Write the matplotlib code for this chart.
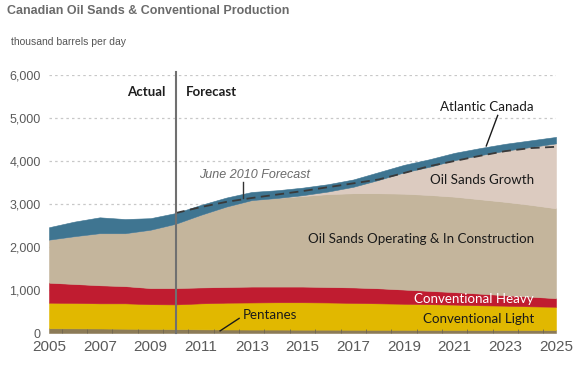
import matplotlib
matplotlib.use("Agg")
import matplotlib.pyplot as plt
import numpy as np

# years on the x axis
years = list(range(2005, 2026))

# layer values, thousand barrels per day
pentanes = [110, 108, 105, 100, 95, 90, 85, 82, 80, 80, 78, 78, 76, 75, 75, 74, 73, 72, 72, 71, 70]
conv_light = [595, 592, 585, 590, 575, 575, 605, 623, 630, 635, 637, 632, 624, 615, 605, 596, 587, 573, 563, 549, 540]
conv_heavy = [465, 440, 420, 400, 375, 380, 370, 365, 370, 365, 365, 360, 360, 350, 330, 310, 290, 270, 245, 225, 200]
os_operating = [1000, 1110, 1210, 1230, 1355, 1495, 1690, 1870, 2010, 2060, 2105, 2160, 2190, 2210, 2230, 2230, 2220, 2195, 2170, 2135, 2090]
os_growth = [0, 0, 0, 0, 0, 0, 0, 0, 0, 0, 20, 60, 150, 310, 495, 655, 850, 1025, 1190, 1345, 1510]
atlantic = [290, 340, 370, 330, 270, 250, 230, 210, 190, 180, 175, 170, 170, 180, 175, 175, 170, 165, 160, 155, 150]

# June 2010 forecast (total)
june_years = list(range(2010, 2026))
june_2010 = [2790, 2930, 3050, 3140, 3220, 3300, 3390, 3480, 3570, 3720, 3880, 4000, 4120, 4230, 4300, 4330]

colors = ["#8c7b57", "#e1b800", "#c01c30", "#c4b59c", "#dccbc0", "#3f7591"]

fig = plt.figure(figsize=(5.8, 3.67), dpi=100)
ax = fig.add_axes([49/580, 34/367, 507/580, 258/367])

polys = ax.stackplot(years, pentanes, conv_light, conv_heavy, os_operating,
                     os_growth, atlantic, colors=colors)
for p, c in zip(polys, colors):
    p.set_edgecolor(c)
    p.set_linewidth(0.4)

ax.plot(june_years, june_2010, color="#3a3a3a", lw=1.3, dashes=(5, 3))

ax.set_xlim(2005, 2025)
ax.set_ylim(0, 6000)
ax.set_yticks(range(0, 6001, 1000))
ax.set_yticklabels([f"{v:,}" for v in range(0, 6001, 1000)])
ax.set_xticks(range(2005, 2026, 2))
ax.set_xticks(np.arange(2005.5, 2025, 1), minor=True)

for y in range(1000, 6001, 1000):
    ax.axhline(y, color="#c8c8c8", lw=0.9, ls=(0, (2, 2.5)), zorder=0)

for s in ax.spines.values():
    s.set_visible(False)
ax.tick_params(axis="y", length=0, pad=6, labelsize=9, labelcolor="#5a5a5a")
ax.tick_params(axis="x", which="major", length=0, pad=5, labelsize=11, labelcolor="#5a5a5a")
ax.tick_params(axis="x", which="minor", length=3, direction="in", color="#6f6550", width=0.6)
for lab in ax.get_xticklabels() + ax.get_yticklabels():
    lab.set_family("Liberation Sans")

# actual / forecast divider
ax.axvline(2010, ymin=0, ymax=1.01, color="#707070", lw=1.5, clip_on=False, zorder=5)

lab_font = "Lato"
fs = 9.6
right_x = 2024.13
ax.text(2009.6, 5600, "Actual", ha="right", va="center", fontsize=9.5,
        fontweight="bold", color="#1e1e1e", family=lab_font)
ax.text(2010.4, 5600, "Forecast", ha="left", va="center", fontsize=9.5,
        fontweight="bold", color="#1e1e1e", family=lab_font)

ax.text(2013.1, 3680, "June 2010 Forecast", ha="center", va="center", fontsize=9,
        style="italic", color="#6a6a6a", family="Liberation Sans")
ax.plot([2012.65, 2012.65], [3130, 3500], color="#333333", lw=1)

ax.text(right_x, 5260, "Atlantic Canada", ha="right", va="center", fontsize=fs,
        color="#1a1a1a", family=lab_font)
ax.plot([2022.7, 2022.25], [5060, 4350], color="#1a1a1a", lw=1)

ax.text(right_x, 3560, "Oil Sands Growth", ha="right", va="center", fontsize=fs,
        color="#1a1a1a", family=lab_font)
ax.text(right_x, 2180, "Oil Sands Operating & In Construction", ha="right", va="center",
        fontsize=fs, color="#1a1a1a", family=lab_font)
ax.text(right_x, 790, "Conventional Heavy", ha="right", va="center", fontsize=fs,
        color="white", family=lab_font)
ax.text(right_x, 325, "Conventional Light", ha="right", va="center", fontsize=fs,
        color="#1a1a1a", family=lab_font)
ax.text(2012.65, 420, "Pentanes", ha="left", va="center", fontsize=fs,
        color="#1a1a1a", family=lab_font)
ax.plot([2012.5, 2011.75], [340, 50], color="#1a1a1a", lw=1)

fig.text(7/580, 1 - 11/367, "Canadian Oil Sands & Conventional Production", ha="left",
         va="center", fontsize=9, fontweight="bold", color="#6b6b6b", family="Liberation Sans")
fig.text(11/580, 1 - 42/367, "thousand barrels per day", ha="left", va="center",
         fontsize=7.5, color="#555555", family="Liberation Sans")

fig.savefig("out.png", dpi=100)
